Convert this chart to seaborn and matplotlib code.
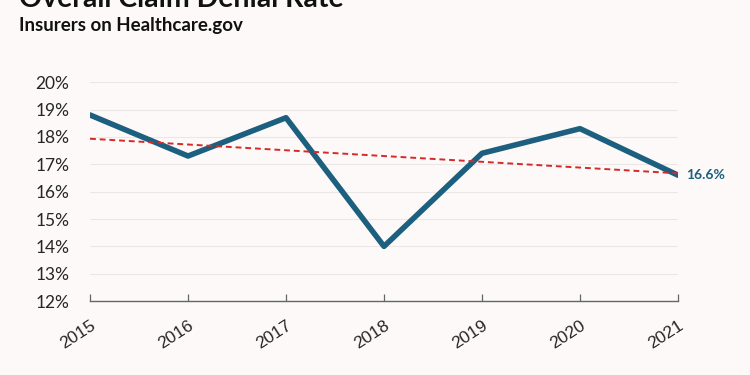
import numpy as np
import pandas as pd
import seaborn as sns
import matplotlib.pyplot as plt
from matplotlib.ticker import FuncFormatter

years = [2015, 2016, 2017, 2018, 2019, 2020, 2021]
denial_rate = [18.8, 17.3, 18.7, 14.0, 17.4, 18.3, 16.6]
yticks = [12, 13, 14, 15, 16, 17, 18, 19, 20]

df = pd.DataFrame({"year": years, "rate": denial_rate})

sns.set_theme(style="white")
plt.rcParams["font.family"] = ["Lato", "DejaVu Sans"]

bg = "#fcf9f8"
line_col = "#1d5f7e"

fig = plt.figure(figsize=(7.5, 3.75), dpi=100, facecolor=bg)
ax = fig.add_axes([0.12, 0.197, 0.784, 0.584])
ax.set_facecolor(bg)

for t in yticks:
    ax.axhline(t, color="#ebe7e6", lw=0.8, zorder=0)

sns.lineplot(data=df, x="year", y="rate", color=line_col, lw=4, ax=ax, zorder=3)

# linear trend line
slope, intercept = np.polyfit(years, denial_rate, 1)
trend = [slope * y + intercept for y in years]
ax.plot(years, trend, color="#d42a2a", lw=1.4, ls=(0, (3, 2)), zorder=4)

ax.annotate(f"{denial_rate[-1]:.1f}%", xy=(years[-1], denial_rate[-1]),
            xytext=(6, 0), textcoords="offset points", va="center", ha="left",
            color=line_col, fontsize=10, fontweight="bold")

ax.set_xlim(years[0], years[-1])
ax.set_ylim(12, 20)
ax.set_xticks(years)
ax.set_yticks(yticks)
ax.yaxis.set_major_formatter(FuncFormatter(lambda v, p: f"{v:.0f}%"))
ax.set_xlabel("")
ax.set_ylabel("")

for s in ["top", "right", "left"]:
    ax.spines[s].set_visible(False)
ax.spines["bottom"].set_color("#666666")
ax.spines["bottom"].set_linewidth(1)
ax.spines["bottom"].set_zorder(5)
ax.tick_params(axis="x", bottom=True, direction="in", length=5, color="#666666",
               width=0.9, labelsize=12.5, pad=12)
ax.tick_params(axis="y", left=False, length=0, labelsize=12.5, pad=15)
plt.setp(ax.get_xticklabels(), rotation=33, ha="right", va="top",
         rotation_mode="anchor", family=["Liberation Sans", "DejaVu Sans"])

# title is cropped at the top edge, as in the original
fig.text(0.025, 1 - 7 / 375, "Overall Claim Denial Rate", fontsize=20.5,
         fontweight="bold", va="baseline", ha="left", color="#111111")
fig.text(0.025, 1 - 31 / 375, "Insurers on Healthcare.gov", fontsize=13.5,
         fontweight="bold", va="baseline", ha="left", color="#111111")

fig.savefig("out.png", dpi=100, facecolor=bg)
